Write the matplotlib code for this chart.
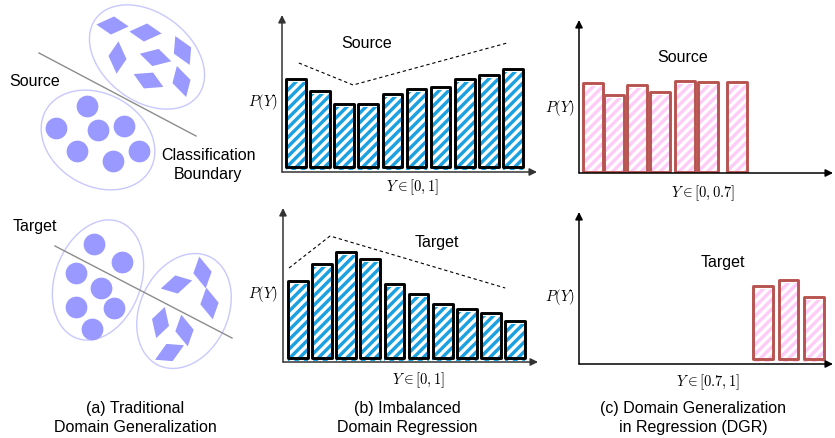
import numpy as np
import matplotlib
matplotlib.use("Agg")
import matplotlib.pyplot as plt
from matplotlib.patches import Ellipse
from matplotlib.markers import MarkerStyle
from matplotlib.path import Path
from matplotlib.transforms import Affine2D
from matplotlib.collections import LineCollection

plt.rcParams["font.family"] = ["Liberation Sans", "DejaVu Sans"]
plt.rcParams["mathtext.fontset"] = "cm"

W, H = 835, 438

# ---- panel (a): toy classification domains (pixel coords, y down) ----
src_circle_x = [87, 56, 98, 124, 77, 113, 139]
src_circle_y = [106, 128, 130, 126, 151, 161, 151]
src_diam_x = [112, 145, 117, 155, 182, 148, 181]
src_diam_y = [25, 32, 57, 57, 50, 80, 81]
src_diam_angle = [0, 0, 90, -10, -60, -20, -70]
src_boundary_x = [39, 196]
src_boundary_y = [53, 136]

tgt_circle_x = [94, 122, 76, 101, 76, 114, 92]
tgt_circle_y = [244, 262, 273, 288, 307, 308, 329]
tgt_diam_x = [176, 202, 209, 160, 184, 169]
tgt_diam_y = [284, 272, 303, 322, 330, 352]
tgt_diam_angle = [18, -75, -75, 78, -75, 30]
tgt_boundary_x = [55, 232]
tgt_boundary_y = [246, 338]

# (cx, cy, major, minor, angle)
ellipses = [
    (147, 57, 128, 88, 37),
    (98, 140, 120, 92, 30),
    (98, 280, 124, 86, -70),
    (184, 311, 120, 88, -65),
]

# ---- panel (b): imbalanced label distributions ----
b_x = list(range(10))
b_src = [0.88, 0.76, 0.63, 0.63, 0.73, 0.78, 0.80, 0.88, 0.92, 0.98]
b_tgt = [0.77, 0.94, 1.06, 0.99, 0.74, 0.64, 0.54, 0.49, 0.45, 0.37]
b_src_trend_x = [0.12, 2.37, 8.76]
b_src_trend_y = [1.04, 0.82, 1.24]
b_tgt_trend_x = [-0.37, 1.33, 8.59]
b_tgt_trend_y = [0.90, 1.22, 0.70]

# ---- panel (c): disjoint label ranges ----
c_src_x = [0, 0.88, 1.83, 2.79, 3.83, 4.79, 6.0]
c_src = [0.89, 0.77, 0.87, 0.80, 0.91, 0.90, 0.90]
c_tgt_x = [7.08, 8.15, 9.2]
c_tgt = [0.73, 0.79, 0.62]

BLUE = "#1BA1E2"
PINK = "#FFCCF7"
RED = "#B85450"
SHAPE = "#9999FF"

fig = plt.figure(figsize=(W / 100, H / 100), dpi=100)

bg = fig.add_axes([0, 0, 1, 1])
bg.set_xlim(0, W)
bg.set_ylim(H, 0)
bg.axis("off")

diamond = Path([(-1, 0.06), (0.1, 0.56), (1, -0.06), (-0.1, -0.56), (-1, 0.06)],
               [Path.MOVETO, Path.LINETO, Path.LINETO, Path.LINETO, Path.CLOSEPOLY])

for cx, cy, a, b, ang in ellipses:
    bg.add_patch(Ellipse((cx, cy), a, b, angle=ang, fill=False,
                         edgecolor="#C8C8FF", lw=1.0))

bg.scatter(src_circle_x, src_circle_y, s=245, color=SHAPE, lw=0)
bg.scatter(tgt_circle_x, tgt_circle_y, s=245, color=SHAPE, lw=0)
for xs, ys, angs in [(src_diam_x, src_diam_y, src_diam_angle),
                     (tgt_diam_x, tgt_diam_y, tgt_diam_angle)]:
    for x, y, ang in zip(xs, ys, angs):
        m = MarkerStyle(diamond, transform=Affine2D().rotate_deg(ang))
        bg.scatter([x], [y], s=540, marker=m, color=SHAPE, lw=0)

bg.plot(src_boundary_x, src_boundary_y, color="#8c8c8c", lw=1.0)
bg.plot(tgt_boundary_x, tgt_boundary_y, color="#8c8c8c", lw=1.0)

fs = 11.5
bg.text(35, 82, "Source", fontsize=fs, ha="center", va="center")
bg.text(208, 165, "Classification\nBoundary", fontsize=fs, ha="center",
        va="center", linespacing=1.3)
bg.text(35, 227, "Target", fontsize=fs, ha="center", va="center")

bg.text(135, 418, "(a) Traditional\nDomain Generalization", fontsize=fs,
        ha="center", va="center", linespacing=1.3)
bg.text(407, 418, "(b) Imbalanced\nDomain Regression", fontsize=fs,
        ha="center", va="center", linespacing=1.3)
bg.text(693, 418, "(c) Domain Generalization\nin Regression (DGR)", fontsize=fs,
        ha="center", va="center", linespacing=1.3)

bg.text(367, 43, "Source", fontsize=fs, ha="center", va="center")
bg.text(437, 242, "Target", fontsize=fs, ha="center", va="center")
bg.text(683, 57, "Source", fontsize=fs, ha="center", va="center")
bg.text(723, 262, "Target", fontsize=fs, ha="center", va="center")

ms = 10.5
for x, y in [(263, 102), (263, 294), (560, 108), (560, 297)]:
    bg.text(x, y, r"$P(Y)$", fontsize=ms, ha="center", va="center")
bg.text(412, 187, r"$Y \in [0, 1]$", fontsize=ms, ha="center", va="center")
bg.text(418, 380, r"$Y \in [0, 1]$", fontsize=ms, ha="center", va="center")
bg.text(703, 193, r"$Y \in [0, 0.7]$", fontsize=ms, ha="center", va="center")
bg.text(708, 382, r"$Y \in [0.7, 1]$", fontsize=ms, ha="center", va="center")


def bar_panel(left, right, top, bottom, x, h, xlim, ylim, face, edge,
              axis_color):
    wpx, hpx = right - left, bottom - top
    ax = fig.add_axes([left / W, 1 - bottom / H, wpx / W, hpx / H])
    ax.set_facecolor("none")
    ax.set_xlim(*xlim)
    ax.set_ylim(*ylim)
    ax.axis("off")
    fills = ax.bar(x, h, width=0.86, bottom=-0.03, color=face, linewidth=0)

    # white diagonal stripes (45 deg on screen), clipped to each bar
    px = Affine2D().scale(1 / wpx, 1 / hpx) + ax.transAxes
    segs = [[(c, 0), (c + hpx, hpx)] for c in np.arange(-hpx, wpx, 9.5)]
    for p in fills:
        lc = LineCollection(segs, colors="white", linewidths=2.4, transform=px)
        ax.add_collection(lc, autolim=False)
        lc.set_clip_path(p)

    ax.bar(x, h, width=0.82, fill=False, edgecolor=edge, linewidth=2.1,
           joinstyle="round", zorder=3)
    arrow = dict(arrowstyle="-|>", color=axis_color, lw=1.1,
                 mutation_scale=11, shrinkA=0, shrinkB=0)
    ax.annotate("", xy=(1, 0), xytext=(0, 0), xycoords="axes fraction",
                arrowprops=arrow)
    ax.annotate("", xy=(0, 1), xytext=(0, 0), xycoords="axes fraction",
                arrowprops=arrow)
    return ax


ax = bar_panel(282, 537, 15, 172, b_x, b_src, (-0.58, 10.0), (-0.05, 1.52),
               BLUE, "black", "#333333")
ax.plot(b_src_trend_x, b_src_trend_y, color="black", lw=0.8, dashes=(3, 2.5))

ax = bar_panel(283, 538, 208, 362, b_x, b_tgt, (-0.62, 9.95), (-0.04, 1.50),
               BLUE, "black", "#333333")
ax.plot(b_tgt_trend_x, b_tgt_trend_y, color="black", lw=0.8, dashes=(3, 2.5))

bar_panel(579, 833, 20, 173, c_src_x, c_src, (-0.58, 10.0), (-0.01, 1.52),
          PINK, RED, "black")
bar_panel(579, 833, 212, 364, c_tgt_x, c_tgt, (-0.58, 10.0), (-0.05, 1.47),
          PINK, RED, "black")

fig.savefig("out.png", dpi=100)
